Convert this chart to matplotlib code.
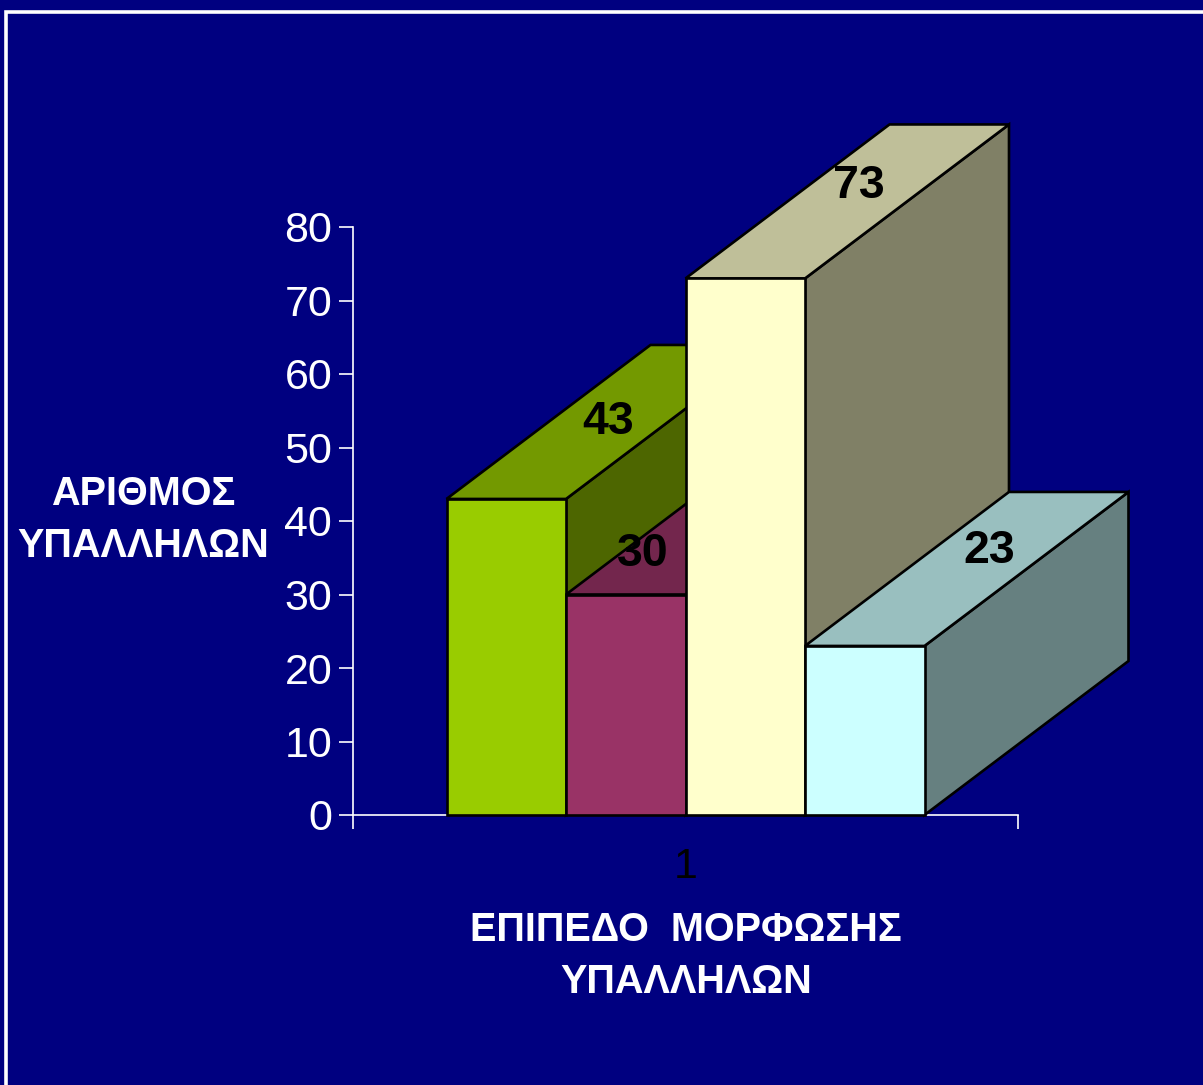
import matplotlib
matplotlib.use("Agg")
import matplotlib.pyplot as plt
from matplotlib.patches import Polygon, Rectangle
import matplotlib.colors as mcolors

# ---- data ----
categories = ["1"]
series_values = [43, 30, 73, 23]
series_colors = ["#99CC00", "#993366", "#FFFFCC", "#CCFFFF"]
y_ticks = [0, 10, 20, 30, 40, 50, 60, 70, 80]
y_label = "ΑΡΙΘΜΟΣ\nΥΠΑΛΛΗΛΩΝ"
x_label = "ΕΠΙΠΕΔΟ  ΜΟΡΦΩΣΗΣ\nΥΠΑΛΛΗΛΩΝ"

# ---- style / geometry ----
BG = "#000080"
W, H = 1203, 1085
plt.rcParams['font.family'] = ['Liberation Sans', 'DejaVu Sans']

fig = plt.figure(figsize=(W / 100, H / 100), dpi=100)
fig.patch.set_facecolor(BG)

# white frame (extends beyond right/bottom edges)
fig.patches.append(Rectangle((5.5 / W, -0.1), 1.2, 1 - 12 / H + 0.1,
                             transform=fig.transFigure, fill=False,
                             edgecolor="white", linewidth=2.6, zorder=0))

ax_l, ax_r, ax_t, ax_b = 353, 1018, 227, 815
ax = fig.add_axes([ax_l / W, 1 - ax_b / H, (ax_r - ax_l) / W, (ax_b - ax_t) / H])
ax.set_facecolor(BG)
ax.set_xlim(0.5, 1.5)
ax.set_ylim(0, 80)

px_x = (ax_r - ax_l) / 1.0      # pixels per x unit
px_y = (ax_b - ax_t) / 80.0     # pixels per y unit

bar_w = 119.5 / px_x
depth_dx = 204 / px_x
depth_dy = 154 / px_y
n = len(series_values)
group_left = 1 - n * bar_w / 2

def shade(c, f):
    r, g, b = mcolors.to_rgb(c)
    return (r * f, g * f, b * f)

edge_kw = dict(edgecolor="black", linewidth=1.9, clip_on=False, joinstyle="miter")
for i, (v, c) in enumerate(zip(series_values, series_colors)):
    x0 = group_left + i * bar_w
    x1 = x0 + bar_w
    z = 3 + i
    front = [(x0, 0), (x1, 0), (x1, v), (x0, v)]
    top = [(x0, v), (x1, v), (x1 + depth_dx, v + depth_dy), (x0 + depth_dx, v + depth_dy)]
    side = [(x1, 0), (x1 + depth_dx, depth_dy), (x1 + depth_dx, v + depth_dy), (x1, v)]
    ax.add_patch(Polygon(side, closed=True, facecolor=shade(c, 0.5), zorder=z, **edge_kw))
    ax.add_patch(Polygon(top, closed=True, facecolor=shade(c, 0.75), zorder=z, **edge_kw))
    ax.add_patch(Polygon(front, closed=True, facecolor=c, zorder=z, **edge_kw))

# data labels: centred on the top face, nudged (pixels) where the face is hidden
label_nudge_px = [(0, 0), (-85, -37), (12, 15), (22, 18)]
for i, v in enumerate(series_values):
    x0 = group_left + i * bar_w
    cx = x0 + bar_w / 2 + depth_dx / 2 + label_nudge_px[i][0] / px_x
    cy = v + depth_dy / 2 + label_nudge_px[i][1] / px_y
    ax.text(cx, cy, str(v), ha="center", va="center", fontsize=33.5,
            fontweight="bold", color="black", zorder=20, clip_on=False)

# axes styling
for s in ["top", "right"]:
    ax.spines[s].set_visible(False)
for s in ["left", "bottom"]:
    ax.spines[s].set_color("white")
    ax.spines[s].set_linewidth(1.2)
    ax.spines[s].set_zorder(1)

ax.set_yticks(y_ticks)
ax.set_yticklabels([str(t) for t in y_ticks])
ax.tick_params(axis="y", colors="white", labelcolor="white", labelsize=31,
               length=10, width=1.2, direction="out", pad=5)
ax.set_xticks([0.5, 1.5])
ax.set_xticklabels(["", ""])
ax.tick_params(axis="x", which="major", colors="white", length=10, width=1.2, direction="out")
ax.set_xticks([1], minor=True)
ax.set_xticklabels(categories, minor=True)
ax.tick_params(axis="x", which="minor", length=0, labelsize=31, labelcolor="black", pad=23)

# axis titles
fig.text(143 / W, 1 - 520 / H, y_label, ha="center", va="center", fontsize=28.5,
         fontweight="bold", color="white", linespacing=1.45)
fig.text(686 / W, 1 - 956 / H, x_label, ha="center", va="center", fontsize=28.5,
         fontweight="bold", color="white", linespacing=1.45)

fig.savefig("out.png", dpi=100, facecolor=BG)
